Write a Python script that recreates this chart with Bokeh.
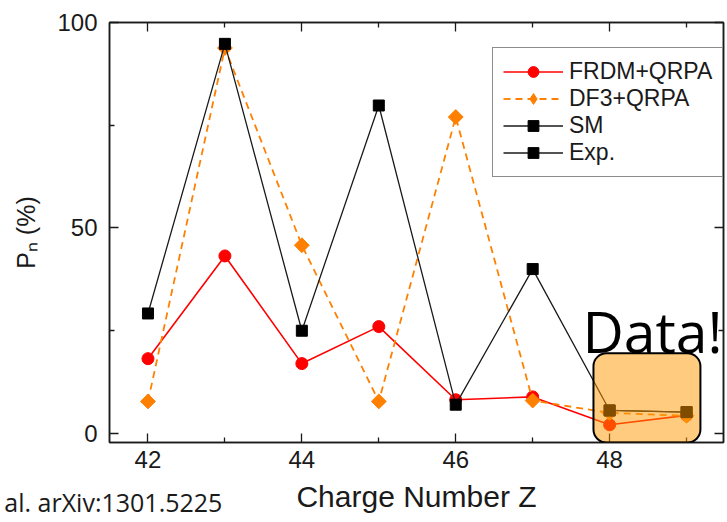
import math
from bokeh.plotting import figure
from bokeh.models import (Range1d, FixedTicker, LinearAxis, Legend, LegendItem,
                          BoxAnnotation, Label, CustomJSTickFormatter)
from bokeh.embed import file_html
from bokeh.resources import INLINE

# ---- data ----
z = [42, 43, 44, 45, 46, 47, 48, 49]
frdm_qrpa = [18.2, 43.2, 17.0, 26.0, 8.2, 8.9, 2.1, 4.4]
df3_qrpa = [7.8, 93.8, 45.8, 7.8, 77.0, 8.0, 5.0, 4.3]
sm = [29.2, 94.8, 25.0, 79.8, 7.0, 40.0, 5.6, 5.2]
exp_z = [48, 49]
exp_pn = [5.6, 5.2]
x_major = [42, 44, 46, 48]
x_minor = [43, 45, 47, 49]
y_major = [0, 50, 100]
y_minor = [25, 75]
highlight_z = [47.79, 49.18]
highlight_top = 19.5
citation = "al. arXiv:1301.5225"
citation_x = 41.55

INK = "#1a1a1a"
RED = "#FF0000"
ORANGE = "#FF8000"
FONT = "Liberation Sans"
NAN = float("nan")

p = figure(width=727, height=522, output_backend="svg", toolbar_location=None,
           x_range=Range1d(41.5, 49.48), y_range=Range1d(-2.2, 100),
           min_border_left=109, min_border_right=4, min_border_top=22,
           min_border_bottom=80, background_fill_color="white",
           border_fill_color="white")
p.xgrid.visible = False
p.ygrid.visible = False
p.outline_line_color = INK
p.outline_line_width = 1.5


def style_axis(ax, major, minor, labels=True):
    ax.ticker = FixedTicker(ticks=major, minor_ticks=minor)
    ax.axis_line_color = INK
    ax.axis_line_width = 1.5
    ax.major_tick_in = 9
    ax.major_tick_out = 0
    ax.minor_tick_in = 5
    ax.minor_tick_out = 0
    ax.major_tick_line_color = INK
    ax.minor_tick_line_color = INK
    ax.major_tick_line_width = 1.3
    ax.minor_tick_line_width = 1.3
    if labels:
        ax.major_label_text_font = FONT
        ax.major_label_text_font_size = "24px"
        ax.major_label_text_color = INK
    else:
        ax.formatter = CustomJSTickFormatter(code="return ''")
        ax.major_label_text_font_size = "0px"
        ax.major_label_standoff = 0


xa = p.xaxis[0]
style_axis(xa, x_major, x_minor)
xa.major_label_standoff = 8
xa.axis_label = "Charge Number Z"
xa.axis_label_text_font = FONT
xa.axis_label_text_font_style = "normal"
xa.axis_label_text_font_size = "30px"
xa.axis_label_text_color = INK
xa.axis_label_standoff = 9

ya = p.yaxis[0]
style_axis(ya, y_major, y_minor)
ya.major_label_standoff = 12
ya.axis_label = "Pₙ (%)"
ya.axis_label_text_font = FONT
ya.axis_label_text_font_style = "normal"
ya.axis_label_text_font_size = "25px"
ya.axis_label_text_color = INK
ya.axis_label_standoff = 14

top_ax = LinearAxis()
style_axis(top_ax, x_major, x_minor, labels=False)
p.add_layout(top_ax, "above")
right_ax = LinearAxis()
style_axis(right_ax, y_major, y_minor, labels=False)
p.add_layout(right_ax, "right")

# citation text, shown as the single label of an extra, line-less bottom axis
cite_ax = LinearAxis(ticker=FixedTicker(ticks=[citation_x], minor_ticks=[]),
                     major_label_overrides={citation_x: citation})
cite_ax.axis_line_alpha = 0
cite_ax.major_tick_line_alpha = 0
cite_ax.minor_tick_line_alpha = 0
cite_ax.major_tick_in = 0
cite_ax.major_tick_out = 0
cite_ax.major_label_standoff = -31
cite_ax.major_label_text_font = "Open Sans"
cite_ax.major_label_text_font_size = "25px"
cite_ax.major_label_text_color = INK
p.add_layout(cite_ax, "below")

# ---- series ----
r_line = p.line(z, frdm_qrpa, line_color=RED, line_width=1.6)
r_pts = p.scatter(z, frdm_qrpa, marker="circle", size=12, fill_color=RED,
                  line_color=RED)
o_line = p.line(z, df3_qrpa, line_color=ORANGE, line_width=1.8, line_dash="7 5")
o_pts = p.scatter(z, df3_qrpa, marker="square", angle=math.pi / 4, size=10.5,
                  fill_color=ORANGE, line_color=ORANGE)
# renderer with no visible point, used only for the legend's diamond symbol
o_key = p.scatter(x=[NAN], y=[NAN], marker="diamond", size=18,
                  fill_color=ORANGE, line_color=ORANGE)
s_line = p.line(z, sm, line_color=INK, line_width=1.3)
s_pts = p.scatter(z, sm, marker="square", size=11, fill_color="black",
                  line_color="black")
e_line = p.line(exp_z, exp_pn, line_color=INK, line_width=1.3)
e_pts = p.scatter(exp_z, exp_pn, marker="square", size=11, fill_color="black",
                  line_color="black")

legend = Legend(items=[
    LegendItem(label="FRDM+QRPA", renderers=[r_line, r_pts]),
    LegendItem(label="DF3+QRPA", renderers=[o_line, o_key]),
    LegendItem(label="SM", renderers=[s_line, s_pts]),
    LegendItem(label="Exp.", renderers=[e_line, e_pts]),
], location=(383, 265))
legend.label_text_font = FONT
legend.label_text_font_size = "23px"
legend.label_text_color = INK
legend.glyph_width = 60
legend.glyph_height = 27
legend.label_height = 27
legend.spacing = 0
legend.padding = 10
legend.margin = 0
legend.label_standoff = 6
legend.border_line_color = INK
legend.border_line_width = 1.5
legend.background_fill_alpha = 1
p.add_layout(legend)

# ---- highlight ----
box = BoxAnnotation(left=highlight_z[0], right=highlight_z[1],
                    top=highlight_top, bottom=-2.2,
                    fill_color="#FF9900", fill_alpha=0.5,
                    line_color="black", line_width=2, line_alpha=1,
                    border_radius=13)
p.add_layout(box)

p.add_layout(Label(x=473, y=112, x_units="screen", y_units="screen",
                   text="Data!", text_font="Open Sans", text_font_size="57px",
                   text_color="black", text_baseline="alphabetic"))

open("out.html", "w").write(file_html(p, INLINE))
